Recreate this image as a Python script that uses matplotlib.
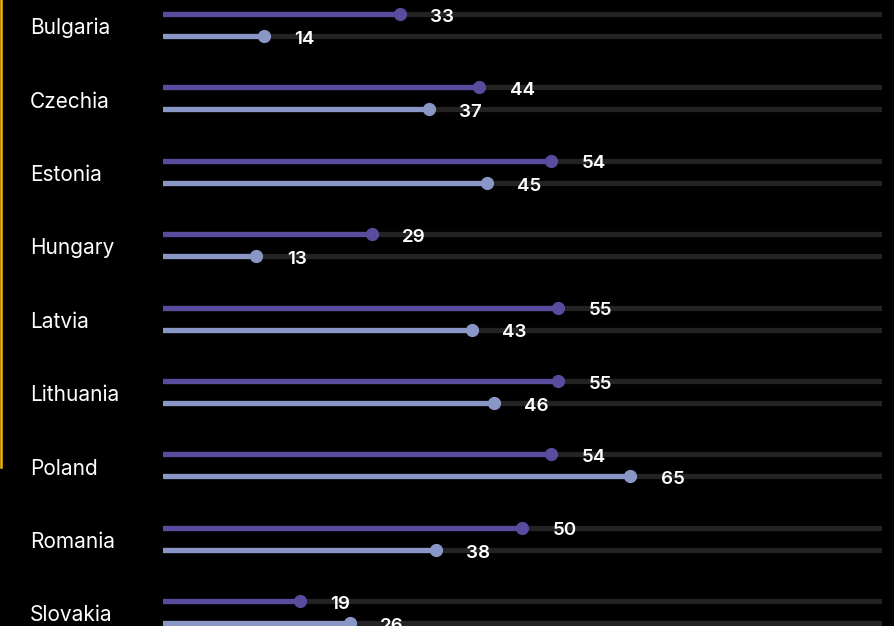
import matplotlib
matplotlib.use("Agg")
import matplotlib.pyplot as plt
import matplotlib.transforms as mtransforms
from matplotlib.lines import Line2D
import numpy as np

countries = ["Bulgaria", "Czechia", "Estonia", "Hungary", "Latvia",
             "Lithuania", "Poland", "Romania", "Slovakia"]
series_a = [33, 44, 54, 29, 55, 55, 54, 50, 19]   # dark purple
series_b = [14, 37, 45, 13, 43, 46, 65, 38, 26]   # light blue
max_val = 100

col_a = "#5a4b9e"
col_b = "#8a96c6"
col_track = "#232323"

plt.rcParams['font.family'] = ['Inter', 'DejaVu Sans']

W, H = 895, 626
fig = plt.figure(figsize=(W / 100, H / 100), dpi=100, facecolor="black")
ax = fig.add_axes([163 / W, 0, 719 / W, 1])
ax.set_facecolor("black")
ax.set_xlim(0, max_val)
row_h = 73.4
ax.set_ylim((H - 25) / row_h, -25 / row_h)
ax.axis("off")

y = np.arange(len(countries))
off = 0.15
lw = 3.8

for i, c in enumerate(countries):
    for yy, v, col in [(y[i] - off, series_a[i], col_a), (y[i] + off, series_b[i], col_b)]:
        ax.plot([0, max_val], [yy, yy], color=col_track, lw=lw, solid_capstyle="round", zorder=1)
        ax.plot([0, v], [yy, yy], color=col, lw=lw, solid_capstyle="round", zorder=2)
        ax.plot(v, yy, "o", color=col, ms=8.5, zorder=3)
        ax.text(v + 4.2, yy + 0.105, str(v), color="white", fontsize=13.5, fontweight="semibold",
                va="baseline", ha="left", zorder=4)

trans = mtransforms.blended_transform_factory(fig.transFigure, ax.transData)
for i, c in enumerate(countries):
    ax.text(30 / W, y[i] + 0.125, c, transform=trans, color="white", fontsize=15,
            va="baseline", ha="left", clip_on=False)

fig.add_artist(Line2D([1 / W, 1 / W], [1, 1 - 467 / H], color="#f2b705", lw=1.8,
                      transform=fig.transFigure))

fig.savefig("out.png", dpi=100, facecolor="black")
